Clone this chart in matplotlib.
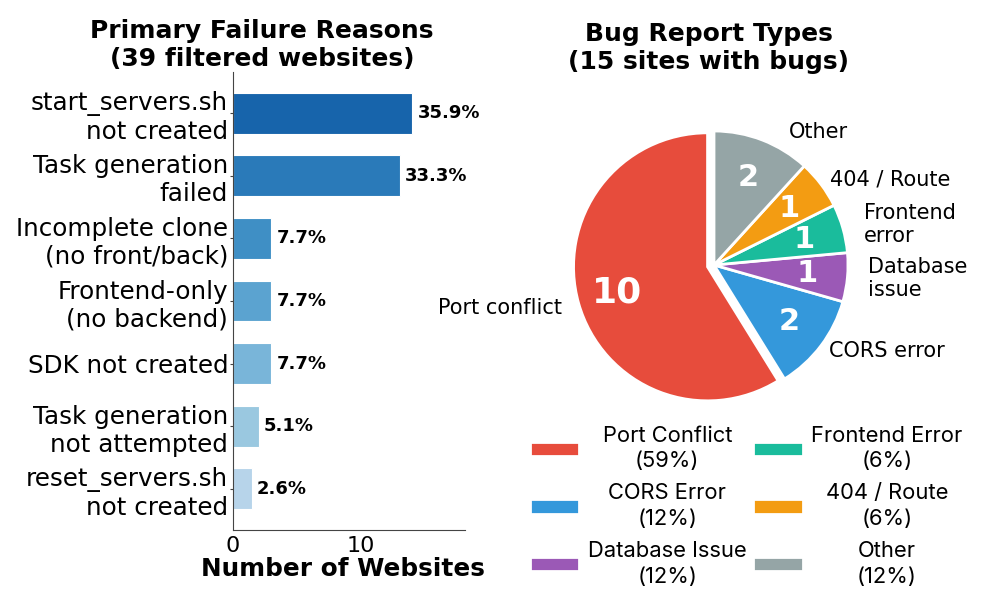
import numpy as np
import matplotlib
matplotlib.use("Agg")
from matplotlib import pyplot as plt

# failure reasons (left)
reasons = ["start_servers.sh\nnot created", "Task generation\nfailed",
           "Incomplete clone\n(no front/back)", "Frontend-only\n(no backend)",
           "SDK not created", "Task generation\nnot attempted",
           "reset_servers.sh\nnot created"]
bar_values = [14, 13, 3, 3, 3, 2, 1.45]   # as drawn (last bar is drawn a bit longer than 1)
pct_labels = ["35.9%", "33.3%", "7.7%", "7.7%", "7.7%", "5.1%", "2.6%"]
total_sites = 39

# bug report types (right)
bug_labels = ["Port conflict", "CORS error", "Database\nissue", "Frontend\nerror", "404 / Route", "Other"]
bug_counts = [10, 2, 1, 1, 1, 2]
legend_names = ["Port Conflict", "CORS Error", "Database Issue", "Frontend Error", "404 / Route", "Other"]
legend_pcts = [59, 12, 12, 6, 6, 12]
bug_colors = ["#e74c3c", "#3498db", "#9b59b6", "#1abc9c", "#f39c12", "#95a5a6"]

fig = plt.figure(figsize=(9.96, 5.97), dpi=100)

# ---- bar chart
ax = fig.add_axes([233/996, 1-530/597, 232/996, 458/597])
cols = plt.cm.Blues(np.linspace(0.8, 0.3, len(bar_values)))
ypos = np.arange(len(bar_values))
ax.barh(ypos, bar_values, height=0.65, color=cols, edgecolor="white", linewidth=0.8)
ax.set_yticks(ypos)
ax.set_yticklabels(reasons, fontsize=17.7)
ax.invert_yaxis()
ax.set_xlim(0, 18.1)
ax.set_xticks([0, 10])
ax.tick_params(axis="x", labelsize=16, length=0, pad=4)
ax.tick_params(axis="y", length=2.5, pad=1, color="#444444")
for s in ["top", "right"]:
    ax.spines[s].set_visible(False)
for s in ["left", "bottom"]:
    ax.spines[s].set_color("#444444")
ax.set_xlabel("Number of Websites", fontsize=17.8, fontweight="bold", labelpad=0)
ax.xaxis.set_label_coords(0.475, -0.06)
for y, c, lab in zip(ypos, bar_values, pct_labels):
    ax.text(c + 0.4, y, lab, va="center", ha="left", fontsize=13, fontweight="bold")
fig.text(262/996, 1-45/597, "Primary Failure Reasons\n(%d filtered websites)" % total_sites,
         ha="center", va="center", fontsize=18, fontweight="bold")

# ---- pie chart
ax2 = fig.add_axes([513/996, 1-466/597, 402/996, 402/597])
explode = [0.05, 0, 0, 0, 0, 0]
wedges, texts, autotexts = ax2.pie(bug_counts, labels=bug_labels, colors=bug_colors, explode=explode,
                                   startangle=90, autopct=lambda p: "%d" % round(p*sum(bug_counts)/100),
                                   pctdistance=0.7, labeldistance=1.1, frame=False,
                                   wedgeprops=dict(edgecolor="white", linewidth=2),
                                   textprops=dict(fontsize=15))
for t, v in zip(autotexts, bug_counts):
    t.set_color("white")
    t.set_fontweight("bold")
    t.set_fontsize(26 if v > 5 else 22)
# small nudges of the outer labels (pixels, 134 px = radius)
nudges = [(-4, 1), (-3, -3), (7, 0), (8, 0), (-2, 3), (22, 4)]
for t, (dx, dy) in zip(texts, nudges):
    x, y = t.get_position()
    t.set_position((x + dx/134, y - dy/134))
ax2.set_xlim(-1.5, 1.5)
ax2.set_ylim(-1.5, 1.5)
ax2.set_aspect("equal")
fig.text(709/996, 1-48/597, "Bug Report Types\n(15 sites with bugs)",
         ha="center", va="center", fontsize=18, fontweight="bold")

leg_labels = ["%s\n(%d%%)" % (n, p) for n, p in zip(legend_names, legend_pcts)]
leg = fig.legend(wedges, leg_labels, ncol=2,
                 loc="upper left", bbox_to_anchor=(521/996, 1-417/597), frameon=False,
                 prop=dict(family="Inter", size=15.8), handlelength=2.25, handleheight=0.63,
                 handletextpad=0.4, columnspacing=0.3, labelspacing=0.55, borderaxespad=0)
legtexts = leg.get_texts()
for t in legtexts:
    t.set_multialignment("center")
    t.set_linespacing(1.35)

# centre the two-line legend labels inside their column
fig.canvas.draw()
r = fig.canvas.get_renderer()
ncol_items = (len(legtexts) + 1)//2
for col in (legtexts[:ncol_items], legtexts[ncol_items:]):
    widths = [t.get_window_extent(r).width for t in col]
    wmax = max(widths)
    for t, w in zip(col, widths):
        t.set_x((wmax - w)/2)

fig.savefig("out.png", dpi=100)
